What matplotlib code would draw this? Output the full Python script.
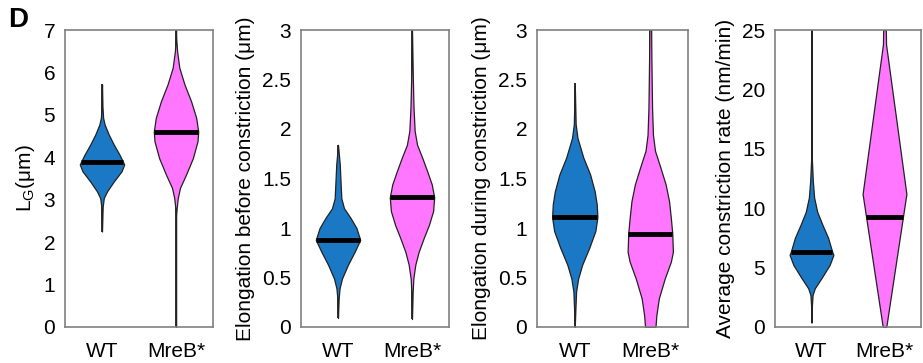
import matplotlib
matplotlib.use('Agg')
import matplotlib.pyplot as plt
import numpy as np

plt.rcParams['font.family'] = ['Liberation Sans', 'DejaVu Sans']
plt.rcParams['mathtext.fontset'] = 'custom'
plt.rcParams['mathtext.rm'] = 'Liberation Sans'

groups = ['WT', 'MreB*']
blue = '#1a78c4'
pink = '#ff77ff'

# violin outlines: y values and relative half-widths
lg_wt_y = [2.25, 2.83, 3.04, 3.2, 3.43, 3.67, 3.83, 3.9, 4.06, 4.3, 4.54, 4.77, 4.93, 5.2, 5.72]
lg_wt_w = [0, .03, .08, .23, .53, .88, 1, .94, .79, .53, .3, .12, .05, .02, 0]
lg_mb_y = [0, 2.6, 2.8, 3.04, 3.28, 3.59, 3.98, 4.38, 4.61, 4.93, 5.32, 5.72, 6.11, 6.5, 6.8, 7]
lg_mb_w = [0, 0, .03, .08, .18, .45, .76, .97, 1, .91, .68, .38, .15, .05, .01, 0]
lg_med = [3.9, 4.59]

eb_wt_y = [0.09, 0.29, 0.39, 0.49, 0.63, 0.76, 0.88, 1.0, 1.1, 1.2, 1.3, 1.44, 1.64, 1.84]
eb_wt_w = [0, .03, .07, .18, .45, .75, 1, .83, .57, .27, .15, .12, .08, 0]
eb_mb_y = [0.08, 0.36, 0.49, 0.63, 0.76, 0.9, 1.03, 1.17, 1.31, 1.44, 1.57, 1.71, 1.84, 1.98, 2.21, 2.48, 3.0]
eb_mb_w = [0, .03, .06, .15, .3, .53, .76, .95, 1, .89, .69, .46, .23, .12, .07, .04, 0]
eb_med = [0.88, 1.31]

ed_wt_y = [0, 0.19, 0.36, 0.49, 0.63, 0.8, 0.97, 1.11, 1.24, 1.37, 1.54, 1.71, 1.91, 2.05, 2.46]
ed_wt_w = [0, .03, .06, .15, .33, .64, .91, 1, .97, .88, .68, .38, .12, .04, 0]
ed_mb_y = [0, 0.12, 0.29, 0.49, 0.66, 0.76, 0.95, 1.1, 1.27, 1.44, 1.61, 1.78, 1.94, 2.21, 2.72, 3.0]
ed_mb_w = [.23, .27, .38, .64, .91, 1, .97, .91, .83, .68, .45, .21, .12, .08, .05, .04]
ed_med = [1.11, 0.94]

cr_wt_y = [0.37, 1.86, 2.7, 3.26, 4.1, 5.23, 6.07, 6.36, 7.5, 8.6, 9.7, 10.9, 12.3, 14.2, 25]
cr_wt_w = [0, .02, .05, .15, .45, .83, 1, .94, .76, .5, .26, .12, .06, .015, 0]
cr_mb_y = [0, 11.2, 23.8, 25]
cr_mb_w = [.08, 1, .07, .06]
cr_med = [6.3, 9.25]

panels = [
    ('L$_{\\rm G}$(μm)', 7, [0, 1, 2, 3, 4, 5, 6, 7],
     [(lg_wt_y, lg_wt_w), (lg_mb_y, lg_mb_w)], lg_med),
    ('Elongation before constriction (μm)', 3, [0, 0.5, 1, 1.5, 2, 2.5, 3],
     [(eb_wt_y, eb_wt_w), (eb_mb_y, eb_mb_w)], eb_med),
    ('Elongation during constriction (μm)', 3, [0, 0.5, 1, 1.5, 2, 2.5, 3],
     [(ed_wt_y, ed_wt_w), (ed_mb_y, ed_mb_w)], ed_med),
    ('Average constriction rate (nm/min)', 25, [0, 5, 10, 15, 20, 25],
     [(cr_wt_y, cr_wt_w), (cr_mb_y, cr_mb_w)], cr_med),
]

W, H = 923, 363
fig = plt.figure(figsize=(W / 100, H / 100), dpi=100)
lefts = [65, 301, 537, 775]
rights = [213, 449, 688, 921]
top, bottom = 30, 327
half = 0.3

for i, (label, ymax, ticks, shapes, meds) in enumerate(panels):
    ax = fig.add_axes([lefts[i] / W, 1 - bottom / H, (rights[i] - lefts[i]) / W, (bottom - top) / H])
    for j, ((ys, ws), med, col) in enumerate(zip(shapes, meds, [blue, pink])):
        pos = j + 1
        ys = np.array(ys)
        ws = np.array(ws) * half
        ax.plot([pos, pos], [ys[0], ys[-1]], color='#222222', lw=1.3, zorder=1, solid_capstyle='butt')
        ax.fill_betweenx(ys, pos - ws, pos + ws, facecolor=col, edgecolor='#222222', lw=0.9, zorder=2)
        mw = np.interp(med, ys, ws)
        ax.plot([pos - mw, pos + mw], [med, med], color='black', lw=3.5, zorder=3, solid_capstyle='butt')
    ax.set_xlim(0.5, 2.5)
    ax.set_ylim(0, ymax)
    ax.set_xticks([1, 2])
    ax.set_xticklabels(groups)
    ax.set_yticks(ticks)
    ax.set_yticklabels([f'{t:g}' for t in ticks])
    ax.tick_params(length=0, labelsize=15, colors='black', pad=7)
    ax.tick_params(axis='x', pad=11)
    ax.set_ylabel(label, fontsize=15, labelpad=5)
    for s in ax.spines.values():
        s.set_color('#808080')
        s.set_linewidth(1.2)

fig.text(8 / W, 1 - 20 / H, 'D', fontsize=20, fontweight='bold', va='center', ha='left')

fig.savefig('out.png', dpi=100)
